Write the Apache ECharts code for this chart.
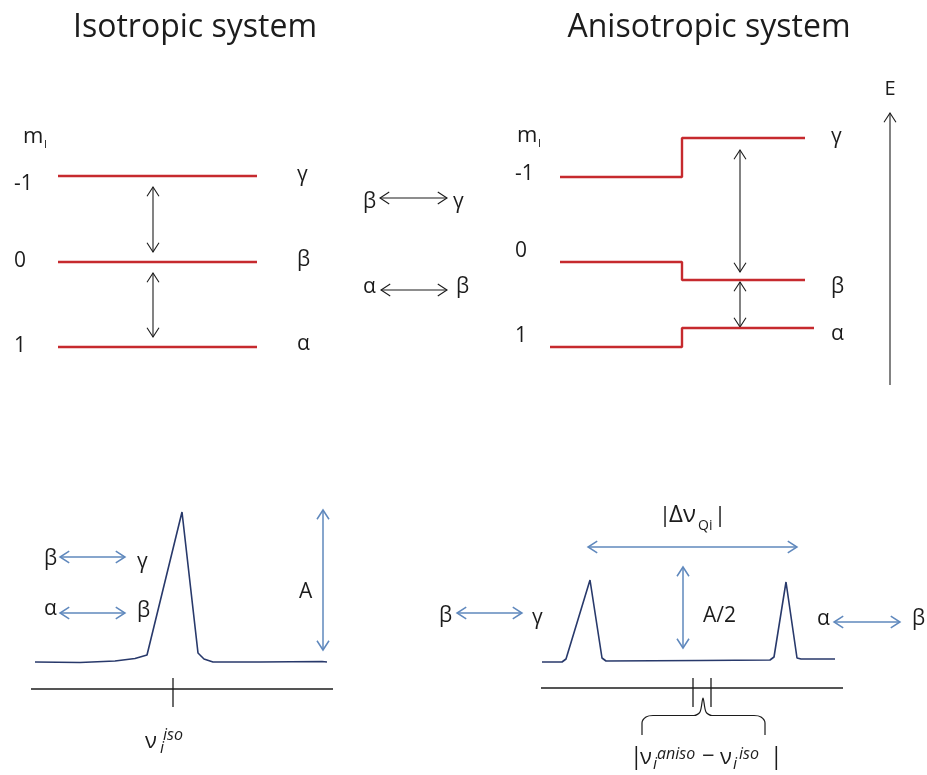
<!DOCTYPE html>
<html>
<head>
<meta charset="utf-8">
<script src="https://cdn.jsdelivr.net/npm/echarts@6/dist/echarts.min.js"></script>
<style>
  html, body { margin: 0; padding: 0; background: #ffffff; }
  #chart { width: 927px; height: 775px; }
</style>
</head>
<body>
<div id="chart"></div>
<script>
// Diagram space: x runs 0..927 to the right, y runs 0..775 downwards (inverted axis).

// ---- energy levels ----
const mIValues = ['-1', '0', '1'];
const stateNames = ['γ', 'β', 'α'];

// isotropic system: three flat levels
const isoLevelX = [58, 257];
const isoLevelY = [176, 262, 347];

// anisotropic system: level before and after the quadrupolar shift
const anisoStartX = [560, 560, 550];
const anisoStepX = 682;
const anisoEndX = [805, 805, 814];
const anisoBeforeY = [177, 262, 347];
const anisoAfterY = [138, 280, 328];

// ---- spectra ----
const isoSpecX = [35, 80, 115, 135, 147, 182, 198, 204, 213, 260, 322, 327];
const isoSpecY = [662, 662.5, 661, 658.5, 655, 512, 653, 659, 662, 662, 661.5, 662];

const anisoSpecX = [542, 562, 566, 590, 602, 606, 700, 770, 774, 786, 797, 801, 835];
const anisoSpecY = [662, 662, 659, 580, 658, 661, 660.5, 660, 657, 582, 658, 659, 659];

// frequency axes under the spectra and their tick positions
const isoFreqAxis = { x: [31, 333], y: 689 };
const isoTicks = [173];
const anisoFreqAxis = { x: [541, 843], y: 688 };
const anisoTicks = [693, 711];
const tickSpan = [678, 707];

// brace marking the isotropic/anisotropic shift
const braceX = [642, 642, 646, 653, 694, 700, 703, 706, 712, 754, 761, 765, 765];
const braceY = [735, 723, 717, 715.5, 715.5, 712, 698, 712, 715.5, 715.5, 717, 723, 735];

// ---- arrows: [x1, y1, x2, y2, heads] (heads: 2 = both ends, 1 = end only) ----
const blackArrows = [
  [153, 187, 153, 252, 2],
  [153, 273, 153, 337, 2],
  [380, 198, 447, 198, 2],
  [381, 290, 447, 290, 2],
  [740, 150, 740, 272, 2],
  [740, 282, 740, 327, 2],
  [890, 385, 890, 113, 1]
];
const blueArrows = [
  [60, 557, 125, 557, 2],
  [60, 613, 125, 613, 2],
  [323, 510, 323, 650, 2],
  [588, 547, 797, 547, 2],
  [683, 567, 683, 648, 2],
  [457, 613, 522, 613, 2],
  [834, 622, 900, 622, 2]
];

// ---- texts: anchor x, alphabetic baseline y, alignment, and runs ----
// run: { t: text, s: size, it: italic, dy: baseline shift,
//        at: offset from the anchor (otherwise follows the previous run), stack: start with the previous run }
const FONT = '"Open Sans", "Noto Sans", "DejaVu Sans", sans-serif';
const B = 21;        // body size
const SS = 16;       // sub/superscript size
function run(t, s, extra) { return Object.assign({ t: t, s: s || B }, extra || {}); }

const texts = [
  { x: 195, y: 37, a: 'center', r: [run('Isotropic system', 32)] },
  { x: 709, y: 37, a: 'center', r: [run('Anisotropic system', 32)] },
  { x: 890, y: 95, a: 'center', r: [run('E', 20)] },

  { x: 23, y: 143, r: [run('m', 22), run('I', 11, { dy: 5, at: 21 })] },
  { x: 517, y: 142, r: [run('m', 22), run('I', 11, { dy: 5, at: 21 })] },

  { x: 363, y: 208, r: [run('β')] },
  { x: 453, y: 208, r: [run('γ')] },
  { x: 363, y: 293, r: [run('α')] },
  { x: 456, y: 293, r: [run('β')] },

  { x: 44, y: 565, r: [run('β')] },
  { x: 137, y: 568, r: [run('γ')] },
  { x: 44, y: 615, r: [run('α')] },
  { x: 137, y: 617, r: [run('β')] },
  { x: 299, y: 598, r: [run('A')] },

  { x: 145, y: 748, r: [run('ν', 22), run('i', SS, { it: true, dy: 5, at: 15 }), run('iso', SS, { it: true, dy: -8, at: 18 })] },

  { x: 662, y: 522, r: [run('|', 22, { at: -3 }), run('Δν', 24, { at: 7 }), run('Qi', 14, { dy: 8, at: 36 }), run('|', 22, { at: 52 })] },
  { x: 703, y: 622, r: [run('A/2')] },
  { x: 439, y: 622, r: [run('β')] },
  { x: 532, y: 624, r: [run('γ')] },
  { x: 817, y: 625, r: [run('α')] },
  { x: 912, y: 625, r: [run('β')] },

  { x: 633, y: 764, r: [
    run('|', 23, { at: -3 }), run('ν', 22, { at: 7 }),
    run('i', SS, { it: true, dy: 5, at: 20 }), run('aniso', SS, { it: true, dy: -5, at: 24 }),
    run('−', 22, { at: 69, dy: -1 }), run('ν', 22, { at: 87 }),
    run('i', SS, { it: true, dy: 5, at: 100 }), run('iso', SS, { it: true, dy: -5, at: 106 }),
    run('|', 23, { at: 137 })
  ] }
];
// level labels on both diagrams
const isoDigitBase = [190, 267, 352];
const isoStateBase = [181, 266, 350];
const anisoDigitBase = [180, 257, 342];
const anisoStateBase = [143, 293, 340];
mIValues.forEach((m, k) => {
  texts.push({ x: 14, y: isoDigitBase[k], r: [run(m)] });
  texts.push({ x: 297, y: isoStateBase[k], r: [run(stateNames[k])] });
  texts.push({ x: 515, y: anisoDigitBase[k], r: [run(m)] });
  texts.push({ x: 831, y: anisoStateBase[k], r: [run(stateNames[k])] });
});

const RED = '#c62a2e';
const INK = '#1c1c1c';
const BLUE = '#5f88bd';
const NAVY = '#28396b';

const measureCtx = document.createElement('canvas').getContext('2d');
function fontStr(s, it) { return (it ? 'italic ' : '') + s + 'px ' + FONT; }
function textWidth(t, s, it) { measureCtx.font = fontStr(s, it); return measureCtx.measureText(t).width; }
const MID = 0.27; // 'middle' anchor sits this many em above the alphabetic baseline

function layoutRuns(runs) {
  let cursor = 0, prevStart = 0;
  const placed = runs.map(r => {
    const w = textWidth(r.t, r.s, r.it);
    let start;
    if (r.at !== undefined) { start = r.at; cursor = Math.max(cursor, start + w); }
    else if (r.stack) { start = prevStart; cursor = Math.max(cursor, start + w); }
    else { start = cursor; cursor = start + w; }
    prevStart = start;
    return { r: r, dx: start };
  });
  return { placed: placed, width: cursor };
}

function pts(xs, ys) { return xs.map((x, k) => [x, ys[k]]); }

function lineSeries(data, color, width, smooth) {
  return {
    type: 'line', data: data, symbol: 'none', smooth: smooth || false,
    silent: true, animation: false,
    lineStyle: { color: color, width: width }
  };
}

function arrowSeries(list, color, width) {
  return {
    type: 'custom', data: list, silent: true, animation: false, clip: false,
    renderItem: function (params, api) {
      const p1 = api.coord([api.value(0), api.value(1)]);
      const p2 = api.coord([api.value(2), api.value(3)]);
      const heads = api.value(4);
      const dx = p2[0] - p1[0], dy = p2[1] - p1[1];
      const len = Math.sqrt(dx * dx + dy * dy);
      const ux = dx / len, uy = dy / len;
      const h = 11, ang = 33 * Math.PI / 180;
      const c = Math.cos(ang), s = Math.sin(ang);
      function head(tip, dirx, diry) {
        // open chevron pointing along (dirx, diry)
        const a = [tip[0] - h * (dirx * c - diry * s), tip[1] - h * (dirx * s + diry * c)];
        const b = [tip[0] - h * (dirx * c + diry * s), tip[1] - h * (-dirx * s + diry * c)];
        return { type: 'polyline', shape: { points: [a, tip, b] },
          style: { stroke: color, lineWidth: width, fill: null } };
      }
      const children = [
        { type: 'line', shape: { x1: p1[0], y1: p1[1], x2: p2[0], y2: p2[1] },
          style: { stroke: color, lineWidth: width } },
        head(p2, ux, uy)
      ];
      if (heads === 2) children.push(head(p1, -ux, -uy));
      return { type: 'group', children: children };
    }
  };
}

const series = [];

// red energy levels
isoLevelY.forEach(y => {
  series.push(lineSeries([[isoLevelX[0], y], [isoLevelX[1], y]], RED, 2.4));
});
anisoBeforeY.forEach((y, k) => {
  series.push(lineSeries([
    [anisoStartX[k], y], [anisoStepX, y],
    [anisoStepX, anisoAfterY[k]], [anisoEndX[k], anisoAfterY[k]]
  ], RED, 2.4));
});

// spectra
series.push(lineSeries(pts(isoSpecX, isoSpecY), NAVY, 1.6));
series.push(lineSeries(pts(anisoSpecX, anisoSpecY), NAVY, 1.6));

// frequency axes and ticks
series.push(lineSeries([[isoFreqAxis.x[0], isoFreqAxis.y], [isoFreqAxis.x[1], isoFreqAxis.y]], INK, 1.3));
series.push(lineSeries([[anisoFreqAxis.x[0], anisoFreqAxis.y], [anisoFreqAxis.x[1], anisoFreqAxis.y]], INK, 1.3));
isoTicks.concat(anisoTicks).forEach(x => {
  series.push(lineSeries([[x, tickSpan[0]], [x, tickSpan[1]]], INK, 1.3));
});

// brace
series.push(lineSeries(pts(braceX, braceY), INK, 1.2, 0.3));

// arrows
series.push(arrowSeries(blackArrows, INK, 1.1));
series.push(arrowSeries(blueArrows, BLUE, 1.5));

// texts, including sub- and superscripted symbols
series.push({
  type: 'custom', data: texts.map(d => [d.x, d.y]), silent: true, animation: false, clip: false,
  renderItem: function (params, api) {
    const d = texts[params.dataIndex];
    const p = api.coord([api.value(0), api.value(1)]);
    const lay = layoutRuns(d.r);
    const x0 = d.a === 'center' ? p[0] - lay.width / 2 : p[0];
    return {
      type: 'group',
      children: lay.placed.map(pl => ({
        type: 'text', x: x0 + pl.dx, y: p[1] + (pl.r.dy || 0) - MID * pl.r.s,
        style: {
          text: pl.r.t, fill: INK,
          fontSize: pl.r.s, fontFamily: FONT, fontStyle: pl.r.it ? 'italic' : 'normal',
          align: 'left', verticalAlign: 'middle'
        }
      }))
    };
  }
});

const chart = echarts.init(document.getElementById('chart'), null, { renderer: 'canvas' });
chart.setOption({
  animation: false,
  backgroundColor: '#ffffff',
  grid: { left: 0, right: 0, top: 0, bottom: 0 },
  xAxis: { type: 'value', min: 0, max: 927, show: false },
  yAxis: { type: 'value', min: 0, max: 775, inverse: true, show: false },
  series: series
});
</script>
</body>
</html>
